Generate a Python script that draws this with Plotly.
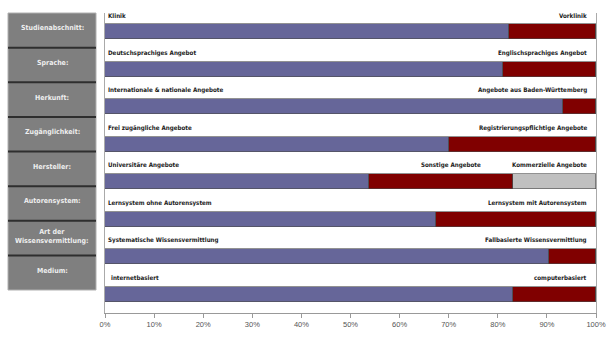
import plotly.graph_objects as go

categories = ["Studienabschnitt:", "Sprache:", "Herkunft:", "Zugänglichkeit:",
              "Hersteller:", "Autorensystem:", "Art der<br>Wissensvermittlung:", "Medium:"]
left_labels = ["Klinik", "Deutschsprachiges Angebot", "Internationale & nationale Angebote",
               "Frei zugängliche Angebote", "Universitäre Angebote",
               "Lernsystem ohne Autorensystem", "Systematische Wissensvermittlung", "internetbasiert"]
right_labels = ["Vorklinik", "Englischsprachiges Angebot", "Angebote aus Baden-Württemberg",
                "Registrierungspflichtige Angebote", "Kommerzielle Angebote",
                "Lernsystem mit Autorensystem", "Fallbasierte Wissensvermittlung", "computerbasiert"]
middle_label = "Sonstige Angebote"
middle_label_row = 4
middle_label_x = 77

blue_vals = [82.3, 81.1, 93.3, 70.1, 53.8, 67.4, 90.4, 83.1]
red_vals = [17.7, 18.9, 6.7, 29.9, 29.3, 32.6, 9.6, 16.9]
grey_vals = [0, 0, 0, 0, 16.9, 0, 0, 0]
tick_vals = [0, 10, 20, 30, 40, 50, 60, 70, 80, 90, 100]
tick_text = [f"{v}%" for v in tick_vals]

ypos = list(range(len(categories)))

fig = go.Figure()
for vals, col in [(blue_vals, "#666699"), (red_vals, "#800000"), (grey_vals, "#C0C0C0")]:
    fig.add_trace(go.Bar(y=ypos, x=vals, orientation="h", width=0.4,
                         marker=dict(color=col, line=dict(color="#4a4a4a", width=0.6)),
                         showlegend=False, hoverinfo="x"))

lab_font = dict(family="DejaVu Sans Condensed", size=6.2, color="#1a1a1a")
ann = []
for i in ypos:
    ann.append(dict(x=0, y=i - 0.44, xref="x", yref="y", text=f"<b>{left_labels[i]}</b>",
                    showarrow=False, xanchor="left", xshift=1 if i != 7 else 4, font=lab_font))
    ann.append(dict(x=100, y=i - 0.44, xref="x", yref="y", text=f"<b>{right_labels[i]}</b>",
                    showarrow=False, xanchor="right", xshift=-7, font=lab_font))
ann.append(dict(x=middle_label_x, y=middle_label_row - 0.44, xref="x", yref="y",
                text=f"<b>{middle_label}</b>", showarrow=False, xanchor="right", font=lab_font))

# left category boxes (paper coords)
plot_l, plot_r, plot_t, plot_b = 105, 596, 13, 313
W, H = plot_r - plot_l, plot_b - plot_t
def px(x):
    return (x - plot_l) / W
def py(y):
    return (plot_b - y) / H

box_top, box_bot = 13, 290
n = len(categories)
step = (box_bot - box_top) / n
shapes = []
shapes.append(dict(type="rect", xref="paper", yref="paper", x0=px(8), x1=px(96),
                   y0=py(box_bot), y1=py(box_top), fillcolor="#7f7f7f",
                   line=dict(color="#b0b0b0", width=1), layer="above"))
for k in range(1, n):
    yy = box_top + k * step
    shapes.append(dict(type="line", xref="paper", yref="paper", x0=px(8), x1=px(96),
                       y0=py(yy), y1=py(yy), line=dict(color="#2e2e2e", width=2)))
box_font = dict(family="DejaVu Sans Condensed", size=7, color="#eeeeee")
for k, c in enumerate(categories):
    yc = box_top + (k + 0.5) * step - 2
    ann.append(dict(x=px(52), y=py(yc), xref="paper", yref="paper", text=f"<b>{c}</b>",
                    showarrow=False, xanchor="center", yanchor="middle", font=box_font,
                    **({"yshift": 0} if "<br>" not in c else {})))

fig.update_layout(
    width=614, height=337, barmode="stack", bargap=0,
    margin=dict(l=plot_l, r=614 - plot_r, t=plot_t, b=337 - plot_b, autoexpand=False),
    paper_bgcolor="white", plot_bgcolor="white",
    xaxis=dict(range=[0, 100], tickvals=tick_vals, ticktext=tick_text, automargin=False,
               showgrid=False, zeroline=False, showline=True, linecolor="#999999",
               linewidth=1, mirror=False, ticks="outside", ticklen=4, tickcolor="#999999",
               tickfont=dict(family="Liberation Sans, Arial", size=7.5, color="#555555")),
    yaxis=dict(range=[7.5, -0.5], showticklabels=False, showgrid=False, zeroline=False,
               automargin=False,
               showline=True, linecolor="#aaaaaa", linewidth=1, mirror=True, ticks=""),
    annotations=ann, shapes=shapes,
)
fig.write_html("out.html")
